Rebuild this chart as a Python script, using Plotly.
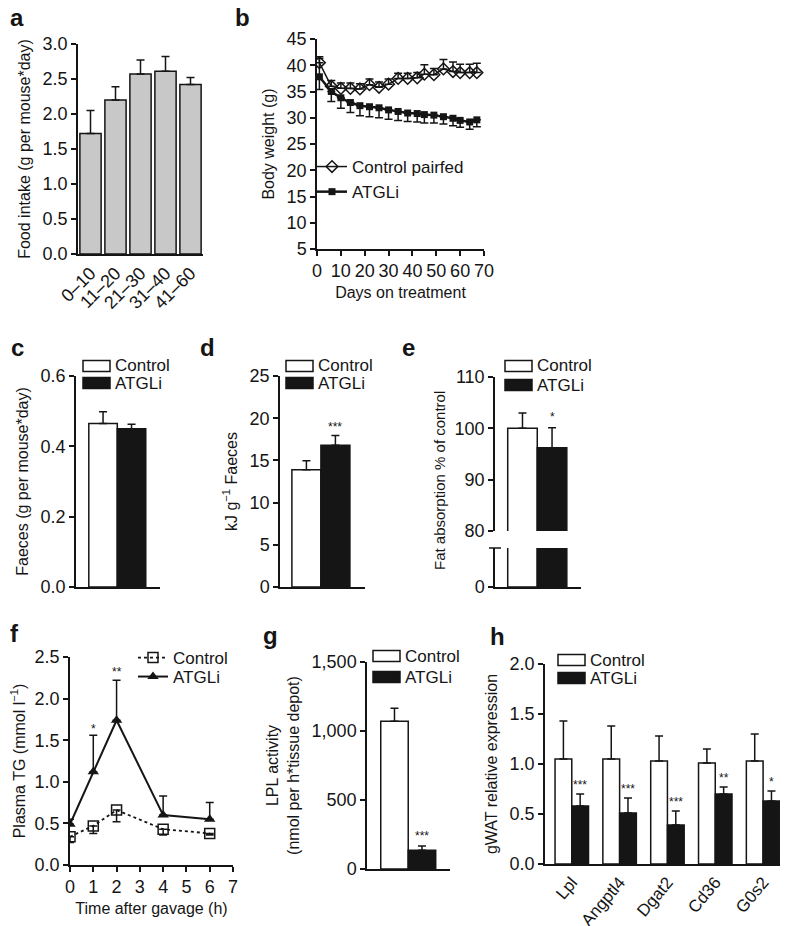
import plotly.graph_objects as go

W, H = 788, 926
OFF = 8  # margen del body de la pagina
FUENTE = "Liberation Sans, Arial, sans-serif"
NEGRO = "#151515"
GRIS = "#c8c8c8"

# a - consumo de comida
periodos = ["0–10", "11–20", "21–30", "31–40", "41–60"]
ingesta = [1.72, 2.20, 2.57, 2.61, 2.42]
ingesta_err = [0.33, 0.19, 0.20, 0.21, 0.10]

# b - peso corporal
dias = [1, 6, 10, 14, 18, 22, 26, 30, 34, 38, 42, 45, 49, 53, 57, 60, 64, 67]
peso_ctrl = [40.5, 36.0, 35.6, 35.6, 35.5, 36.3, 35.8, 36.4, 37.5, 37.5, 37.6, 38.3, 38.2, 39.3, 38.8, 38.6, 38.6, 38.6]
peso_ctrl_err = [1.1, 1.1, 1.0, 1.0, 1.0, 1.1, 1.0, 1.0, 1.0, 1.0, 1.0, 1.8, 1.2, 1.8, 1.8, 1.6, 1.6, 1.8]
peso_atgl = [37.8, 35.0, 33.8, 32.9, 32.3, 32.1, 31.9, 31.5, 31.2, 30.9, 30.8, 30.6, 30.5, 30.2, 29.9, 29.5, 29.2, 29.6]
peso_atgl_err = [2.4, 1.9, 2.0, 1.9, 1.9, 1.9, 1.9, 1.8, 1.7, 1.6, 1.6, 1.6, 1.5, 1.4, 1.4, 1.3, 1.4, 1.3]
peso_atgl_err_arriba = [3.5, 0, 0, 0, 0, 0, 0, 0, 0, 0, 0, 0, 0, 0, 0, 0, 0, 0]

grupos = ["Control", "ATGLi"]
# c
heces = [0.465, 0.450]
heces_err = [0.033, 0.013]
# d
energia = [13.9, 16.8]
energia_err = [1.05, 1.15]
# e
absorcion = [100.0, 96.2]
absorcion_err = [3.0, 3.9]

# f - TG plasma
horas = [0, 1, 2, 4, 6]
tg_ctrl = [0.34, 0.47, 0.66, 0.43, 0.38]
tg_ctrl_err = [0.07, 0.09, 0.14, 0.07, 0.02]
tg_atgl = [0.49, 1.12, 1.74, 0.60, 0.55]
tg_atgl_err = [0.06, 0.44, 0.48, 0.23, 0.20]

# g - actividad LPL
lpl = [1070, 135]
lpl_err = [95, 32]

# h - expresion gWAT
genes = ["Lpl", "Angptl4", "Dgat2", "Cd36", "G0s2"]
expr_ctrl = [1.05, 1.05, 1.03, 1.01, 1.03]
expr_ctrl_err = [0.38, 0.33, 0.25, 0.14, 0.27]
expr_atgl = [0.58, 0.51, 0.39, 0.70, 0.63]
expr_atgl_err = [0.12, 0.15, 0.14, 0.07, 0.10]
estrellas_h = ["***", "***", "***", "**", "*"]


def px(x):
    return (x - OFF) / W


def py(y):
    return 1 - (y - OFF) / H


def err(arriba, abajo=None):
    return dict(type="data", symmetric=False, array=arriba,
                arrayminus=abajo if abajo is not None else [0] * len(arriba),
                color=NEGRO, thickness=1.5, width=4)


def eje(x0, x1, anchor, **kw):
    d = dict(domain=[px(x0), px(x1)], anchor=anchor, showline=True, linecolor=NEGRO, linewidth=1.5,
             ticks="outside", ticklen=5, tickwidth=1.5, tickcolor=NEGRO, showgrid=False, zeroline=False,
             automargin=False,
             tickfont=dict(size=18, family=FUENTE, color=NEGRO), title_font=dict(size=16, family=FUENTE, color=NEGRO))
    d.update(kw)
    return d


def ejey(top, bottom, anchor, **kw):
    d = eje(OFF, OFF + 1, anchor, **kw)
    d["domain"] = [py(bottom), py(top)]
    return d


def leyenda(x, y):
    return dict(x=px(x), y=py(y), xanchor="left", yanchor="top", itemwidth=30,
                bgcolor="rgba(0,0,0,0)", font=dict(size=17, family=FUENTE, color=NEGRO))


fig = go.Figure()
linea = dict(color=NEGRO, width=1.5)

# a
fig.add_trace(go.Bar(x=periodos, y=ingesta, width=0.85, marker=dict(color=GRIS, line=linea),
                     error_y=err(ingesta_err), xaxis="x", yaxis="y", showlegend=False))

# b
fig.add_trace(go.Scatter(x=dias, y=peso_ctrl, mode="lines+markers", name="Control pairfed",
                         line=dict(color=NEGRO, width=1.5),
                         marker=dict(symbol="diamond-open", size=9, color=NEGRO, line=dict(width=1.5)),
                         error_y=err(peso_ctrl_err), xaxis="x2", yaxis="y2", legend="legend"))
fig.add_trace(go.Scatter(x=dias, y=peso_atgl, mode="lines+markers", name="ATGLi",
                         line=dict(color=NEGRO, width=2.5),
                         marker=dict(symbol="square", size=7, color=NEGRO),
                         error_y=err(peso_atgl_err_arriba, peso_atgl_err), xaxis="x2", yaxis="y2", legend="legend"))

colores = ["white", NEGRO]
# c, d, g
for vals, errs, n in [(heces, heces_err, 3), (energia, energia_err, 4), (lpl, lpl_err, 8)]:
    fig.add_trace(go.Bar(x=grupos, y=vals, width=1, marker=dict(color=colores, line=linea),
                         error_y=err(errs), xaxis="x%d" % n, yaxis="y%d" % n, showlegend=False))

# e (eje cortado)
fig.add_trace(go.Bar(x=grupos, y=absorcion, width=1, marker=dict(color=colores, line=linea),
                     xaxis="x5", yaxis="y5", showlegend=False))
fig.add_trace(go.Bar(x=grupos, y=absorcion, width=1, marker=dict(color=colores, line=linea),
                     error_y=err(absorcion_err), xaxis="x5", yaxis="y6", showlegend=False))

# f
fig.add_trace(go.Scatter(x=horas, y=tg_ctrl, mode="lines+markers", name="Control",
                         line=dict(color=NEGRO, width=1.8, dash="dot"),
                         marker=dict(symbol="square-open", size=10, color=NEGRO, line=dict(width=1.5)),
                         error_y=err([0] * 5, tg_ctrl_err), xaxis="x7", yaxis="y7", legend="legend2"))
fig.add_trace(go.Scatter(x=horas, y=tg_atgl, mode="lines+markers", name="ATGLi",
                         line=dict(color=NEGRO, width=2),
                         marker=dict(symbol="triangle-up", size=10, color=NEGRO),
                         error_y=err(tg_atgl_err), xaxis="x7", yaxis="y7", legend="legend3"))

# h
fig.add_trace(go.Bar(x=genes, y=expr_ctrl, width=0.35, offset=-0.35, marker=dict(color="white", line=linea),
                     error_y=err(expr_ctrl_err), xaxis="x9", yaxis="y9", showlegend=False))
fig.add_trace(go.Bar(x=genes, y=expr_atgl, width=0.35, offset=0, marker=dict(color=NEGRO, line=linea),
                     error_y=err(expr_atgl_err), xaxis="x9", yaxis="y9", showlegend=False))

sin_x = dict(showticklabels=False, ticks="")

fig.update_layout(
    template="none",
    width=W, height=H, margin=dict(l=0, r=0, t=0, b=0, autoexpand=False),
    paper_bgcolor="white", plot_bgcolor="white", barmode="overlay",
    font=dict(family=FUENTE, color=NEGRO, size=16),
    xaxis=eje(78, 203, "y", type="category", range=[-0.5, 4.5], tickangle=-45, ticks=""),
    yaxis=ejey(44, 254, "x", range=[0, 3], dtick=0.5, tickformat=".1f",
               title=dict(text="Food intake (g per mouse*day)", standoff=8)),
    xaxis2=eje(317, 484, "y2", range=[0, 70], dtick=10, title=dict(text="Days on treatment", standoff=6)),
    yaxis2=ejey(39, 249, "x2", range=[5, 45], dtick=5, title=dict(text="Body weight (g)", standoff=8)),
    xaxis3=eje(76, 160, "y3", type="category", range=[-0.95, 2.0], **sin_x),
    yaxis3=ejey(376, 587, "x3", range=[0, 0.6], dtick=0.2, tickformat=".1f",
                title=dict(text="Faeces (g per mouse*day)", standoff=8)),
    xaxis4=eje(280, 365, "y4", type="category", range=[-0.91, 2.02], **sin_x),
    yaxis4=ejey(376, 587, "x4", range=[0, 25], dtick=5,
                title=dict(text="kJ g<sup>−1</sup> Faeces", standoff=8)),
    xaxis5=eje(495, 581, "y5", type="category", range=[-0.93, 1.98], **sin_x),
    yaxis5=ejey(548, 587, "x5", range=[0, 10], tickvals=[0]),
    yaxis6=ejey(377, 531, "x5", range=[80, 110], tickvals=[80, 90, 100, 110]),
    xaxis7=eje(70, 233, "y7", range=[0, 7], dtick=1, title=dict(text="Time after gavage (h)", standoff=6)),
    yaxis7=ejey(657, 865, "x7", range=[0, 2.5], dtick=0.5, tickformat=".1f",
                title=dict(text="Plasma TG (mmol l<sup>−1</sup>)", standoff=8)),
    xaxis8=eje(367, 450, "y8", type="category", range=[-1.0, 2.02], **sin_x),
    yaxis8=ejey(662, 869, "x8", range=[0, 1500], tickvals=[0, 500, 1000, 1500], tickformat=",",
                title=dict(text="LPL activity<br>(nmol per h*tissue depot)", standoff=8)),
    xaxis9=eje(545, 787, "y9", type="category", range=[-0.56, 4.5], tickangle=-50, ticks="",
               tickfont=dict(size=17, family=FUENTE, color=NEGRO)),
    yaxis9=ejey(664, 864, "x9", range=[0, 2], dtick=0.5, tickformat=".1f",
                title=dict(text="gWAT relative expression", standoff=8)),
    legend=leyenda(312, 149),
    legend2=leyenda(133, 640),
    legend3=leyenda(133, 659),
)

anot = []
formas = []

# letras de panel
for letra, x, y in [("a", 17, 17), ("b", 242, 17), ("c", 17, 347), ("d", 207, 347), ("e", 408, 347),
                    ("f", 14, 633), ("g", 270, 635), ("h", 497, 636)]:
    anot.append(dict(text="<b>%s</b>" % letra, x=px(x), y=py(y), xref="paper", yref="paper",
                     xanchor="center", yanchor="middle",
                     showarrow=False, font=dict(size=24, family=FUENTE, color=NEGRO)))

# leyendas de barras
for x0, yc, ya in [(83, 366, 383), (286, 366, 383), (505, 366, 385), (373, 656, 677), (558, 660, 678)]:
    for yy, col, txt in [(yc, "white", "Control"), (ya, NEGRO, "ATGLi")]:
        formas.append(dict(type="rect", xref="paper", yref="paper", x0=px(x0), x1=px(x0 + 27),
                           y0=py(yy + 5.5), y1=py(yy - 5.5), fillcolor=col, line=dict(color=NEGRO, width=1.5)))
        anot.append(dict(text=txt, x=px(x0 + 30), y=py(yy), xref="paper", yref="paper", xanchor="left",
                         yanchor="middle", showarrow=False, font=dict(size=17, family=FUENTE, color=NEGRO)))

# titulo del eje cortado
anot.append(dict(text="Fat absorption % of control", x=px(440), y=py(481), xref="paper", yref="paper",
                 xanchor="center", yanchor="middle",
                 textangle=-90, showarrow=False, font=dict(size=15, family=FUENTE, color=NEGRO)))
formas.append(dict(type="line", xref="paper", yref="paper", x0=px(489), x1=px(501), y0=py(548), y1=py(548),
                   line=dict(color=NEGRO, width=1.5)))

# asteriscos
est = dict(showarrow=False, xanchor="center", yanchor="middle", font=dict(size=12, family=FUENTE, color=NEGRO))
anot.append(dict(text="***", x=1, y=19.0, xref="x4", yref="y4", **est))
anot.append(dict(text="*", x=1, y=102.3, xref="x5", yref="y6", **est))
anot.append(dict(text="*", x=1, y=1.64, xref="x7", yref="y7", **est))
anot.append(dict(text="**", x=2, y=2.32, xref="x7", yref="y7", **est))
anot.append(dict(text="***", x=1, y=240, xref="x8", yref="y8", **est))
for i, s in enumerate(estrellas_h):
    yv = expr_atgl[i] + expr_atgl_err[i] + 0.09
    anot.append(dict(text=s, x=i + 0.175, y=yv, xref="x9", yref="y9", **est))

fig.update_layout(annotations=anot, shapes=formas)

fig.write_html("out.html")
